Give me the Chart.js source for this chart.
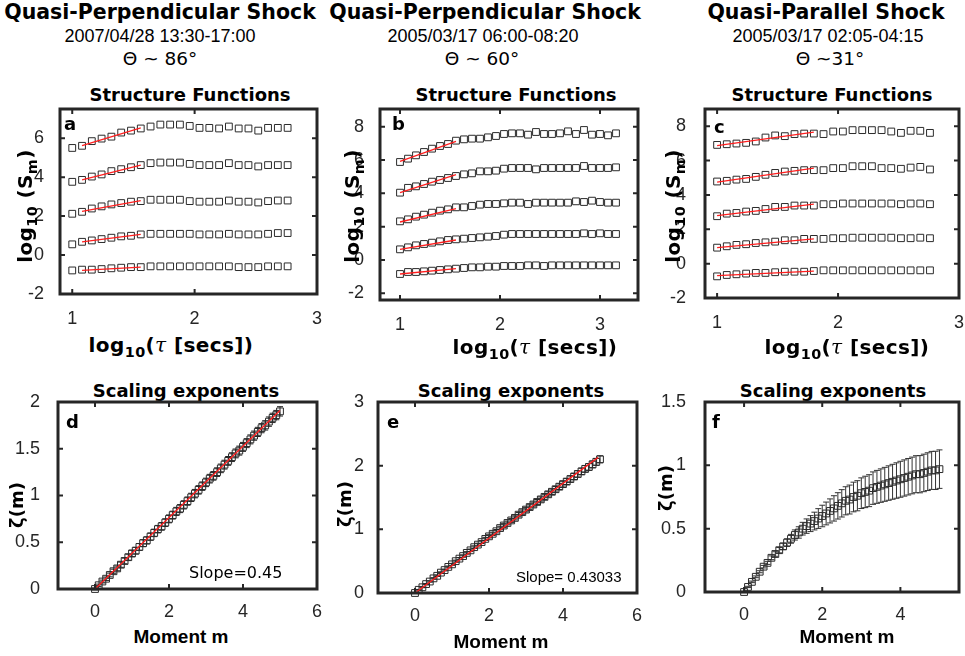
<!DOCTYPE html>
<html>
<head>
<meta charset="utf-8">
<script src="https://cdn.jsdelivr.net/npm/chart.js@4.4.1/dist/chart.umd.min.js"></script>
<style>
  html, body { margin: 0; padding: 0; background: #fff; overflow: hidden; }
  #fig { position: relative; width: 965px; height: 656px; background: #fff; overflow: hidden; }
  #fig canvas { position: absolute; }
  .t { position: absolute; white-space: nowrap; color: #000; transform: translate(-50%, -50%); line-height: 1.15; }
  .hd { font-family: 'DejaVu Sans'; font-weight: bold; font-size: 20.5px; }
  .hs { font-family: 'Liberation Sans'; font-size: 18px; }
  .th { font-family: 'DejaVu Sans'; font-size: 18.5px; }
  .pt { font-family: 'DejaVu Sans'; font-weight: bold; font-size: 18px; }
  .xl { font-family: 'DejaVu Sans'; font-weight: bold; font-size: 20px; letter-spacing: 0.4px; }
  .ml { font-family: 'Liberation Sans'; font-weight: bold; font-size: 19px; }
  .yl { font-family: 'DejaVu Sans'; font-weight: bold; font-size: 18px; transform: translate(-50%, -50%) rotate(-90deg); }
  .ys { font-size: 20px; letter-spacing: 0.4px; }
  .tau { font-family: 'DejaVu Serif'; font-style: italic; font-weight: normal; }
  .lt { position: absolute; font-family: 'DejaVu Sans'; font-weight: bold; font-size: 18px; line-height: 18px; }
  .sl { position: absolute; white-space: nowrap; color: #000; }
  sub { font-size: 72%; vertical-align: -0.35em; line-height: 0; }
</style>
</head>
<body>
<div id="fig">
  <div class="t hd" style="left:160px; top:13px">Quasi-Perpendicular Shock</div>
  <div class="t hs" style="left:160px; top:36px">2007/04/28 13:30-17:00</div>
  <div class="t th" style="left:160px; top:59px">Θ ~ 86°</div>
  <div class="t hd" style="left:485px; top:13px">Quasi-Perpendicular Shock</div>
  <div class="t hs" style="left:483px; top:36px">2005/03/17 06:00-08:20</div>
  <div class="t th" style="left:482px; top:59px">Θ ~ 60°</div>
  <div class="t hd" style="left:826px; top:13px">Quasi-Parallel Shock</div>
  <div class="t hs" style="left:828px; top:36px">2005/03/17 02:05-04:15</div>
  <div class="t th" style="left:830px; top:59px">Θ ~31°</div>

  <div class="t pt" style="left:190px; top:95px">Structure Functions</div>
  <div class="t pt" style="left:516px; top:95px">Structure Functions</div>
  <div class="t pt" style="left:832px; top:95px">Structure Functions</div>
  <div class="t pt" style="left:186px; top:391px">Scaling exponents</div>
  <div class="t pt" style="left:511px; top:391px">Scaling exponents</div>
  <div class="t pt" style="left:833px; top:391px">Scaling exponents</div>
</div>
<script>
// ---- panel a: 2007/04/28, log10(S_m) vs log10(tau), m = 1..5 ----
const tauA = [1.00, 1.08, 1.16, 1.24, 1.32, 1.40, 1.48, 1.56, 1.64, 1.72, 1.80, 1.88, 1.96, 2.04, 2.12, 2.20, 2.28, 2.36, 2.44, 2.52, 2.60, 2.68, 2.76];
const sfA1 = [-0.79, -0.75, -0.75, -0.72, -0.68, -0.65, -0.62, -0.62, -0.58, -0.58, -0.58, -0.58, -0.58, -0.58, -0.58, -0.58, -0.58, -0.62, -0.62, -0.62, -0.58, -0.58, -0.58];
const sfA2 = [0.55, 0.68, 0.75, 0.82, 0.89, 0.96, 0.99, 1.06, 1.09, 1.09, 1.09, 1.09, 1.09, 1.06, 1.06, 1.06, 1.09, 1.06, 1.06, 1.06, 1.09, 1.13, 1.13];
const sfA3 = [2.12, 2.22, 2.39, 2.50, 2.60, 2.67, 2.74, 2.77, 2.84, 2.84, 2.84, 2.84, 2.77, 2.74, 2.74, 2.74, 2.80, 2.74, 2.74, 2.70, 2.77, 2.80, 2.80];
const sfA4 = [3.76, 3.86, 4.03, 4.14, 4.31, 4.41, 4.51, 4.62, 4.72, 4.75, 4.75, 4.75, 4.68, 4.62, 4.62, 4.62, 4.72, 4.62, 4.62, 4.55, 4.62, 4.62, 4.62];
const sfA5 = [5.50, 5.61, 5.85, 5.98, 6.08, 6.29, 6.39, 6.50, 6.60, 6.70, 6.70, 6.70, 6.63, 6.53, 6.53, 6.50, 6.60, 6.50, 6.50, 6.39, 6.53, 6.53, 6.53];
const fitTauA = [1.08, 1.56];
const fitStartA = [-0.79, 0.68, 2.24, 3.86, 5.62];
const fitEndA = [-0.62, 1.06, 2.80, 4.62, 6.53];

// ---- panel b: 2005/03/17 06:00-08:20 ----
const tauB = [1.00, 1.08, 1.16, 1.24, 1.32, 1.40, 1.48, 1.56, 1.64, 1.72, 1.80, 1.88, 1.96, 2.04, 2.12, 2.20, 2.28, 2.36, 2.44, 2.52, 2.60, 2.68, 2.76, 2.84, 2.92, 3.00, 3.08, 3.16];
const sfB1 = [-0.84, -0.72, -0.72, -0.68, -0.64, -0.60, -0.56, -0.52, -0.48, -0.44, -0.44, -0.40, -0.40, -0.36, -0.36, -0.36, -0.32, -0.32, -0.36, -0.32, -0.32, -0.32, -0.32, -0.32, -0.32, -0.32, -0.32, -0.32];
const sfB2 = [0.64, 0.76, 0.88, 0.96, 1.04, 1.12, 1.20, 1.24, 1.28, 1.32, 1.36, 1.40, 1.44, 1.52, 1.56, 1.56, 1.56, 1.56, 1.56, 1.56, 1.56, 1.56, 1.56, 1.60, 1.56, 1.60, 1.56, 1.56];
const sfB3 = [2.32, 2.44, 2.60, 2.72, 2.84, 2.96, 3.04, 3.16, 3.16, 3.24, 3.32, 3.36, 3.36, 3.40, 3.44, 3.44, 3.36, 3.44, 3.44, 3.44, 3.44, 3.44, 3.52, 3.48, 3.56, 3.48, 3.44, 3.44];
const sfB4 = [4.04, 4.33, 4.42, 4.56, 4.70, 4.80, 4.92, 5.04, 5.14, 5.20, 5.32, 5.32, 5.36, 5.48, 5.52, 5.52, 5.52, 5.44, 5.52, 5.52, 5.52, 5.52, 5.52, 5.64, 5.52, 5.52, 5.52, 5.56];
const sfB5 = [5.88, 6.08, 6.28, 6.48, 6.68, 6.84, 6.96, 7.16, 7.24, 7.28, 7.28, 7.36, 7.44, 7.56, 7.60, 7.60, 7.52, 7.68, 7.56, 7.56, 7.60, 7.72, 7.56, 7.80, 7.52, 7.56, 7.48, 7.60];
const fitTauB = [1.00, 1.56];
const fitStartB = [-0.84, 0.64, 2.28, 4.04, 5.92];
const fitEndB = [-0.52, 1.20, 3.08, 5.12, 7.12];

// ---- panel c: 2005/03/17 02:05-04:15 ----
const tauC = [1.00, 1.08, 1.16, 1.24, 1.32, 1.40, 1.48, 1.56, 1.64, 1.72, 1.80, 1.88, 1.96, 2.04, 2.12, 2.20, 2.28, 2.36, 2.44, 2.52, 2.60, 2.68, 2.76];
const sfC1 = [-0.74, -0.66, -0.62, -0.58, -0.54, -0.54, -0.50, -0.47, -0.47, -0.47, -0.43, -0.39, -0.39, -0.39, -0.39, -0.39, -0.39, -0.39, -0.39, -0.39, -0.39, -0.39, -0.39];
const sfC2 = [0.93, 1.01, 1.09, 1.13, 1.20, 1.24, 1.28, 1.36, 1.36, 1.44, 1.44, 1.44, 1.48, 1.48, 1.51, 1.51, 1.51, 1.51, 1.51, 1.48, 1.48, 1.51, 1.48];
const sfC3 = [2.76, 2.91, 2.95, 3.03, 3.07, 3.18, 3.30, 3.30, 3.38, 3.38, 3.38, 3.46, 3.46, 3.50, 3.50, 3.50, 3.50, 3.50, 3.50, 3.46, 3.50, 3.50, 3.46];
const sfC4 = [4.78, 4.82, 4.89, 4.93, 5.05, 5.17, 5.28, 5.36, 5.40, 5.44, 5.44, 5.44, 5.56, 5.56, 5.67, 5.67, 5.67, 5.56, 5.56, 5.52, 5.59, 5.63, 5.48];
const sfC5 = [6.91, 6.95, 6.99, 7.03, 7.11, 7.34, 7.46, 7.42, 7.54, 7.57, 7.57, 7.54, 7.69, 7.69, 7.77, 7.77, 7.77, 7.77, 7.69, 7.61, 7.73, 7.73, 7.61];
const fitTauC = [1.00, 1.80];
const fitStartC = [-0.70, 0.93, 2.80, 4.74, 6.87];
const fitEndC = [-0.43, 1.44, 3.46, 5.56, 7.65];

// ---- scaling exponents zeta(m), panels d e f ----
const momentM = [0.0, 0.1, 0.2, 0.3, 0.4, 0.5, 0.6, 0.7, 0.8, 0.9, 1.0, 1.1, 1.2, 1.3, 1.4, 1.5, 1.6, 1.7, 1.8, 1.9,
                 2.0, 2.1, 2.2, 2.3, 2.4, 2.5, 2.6, 2.7, 2.8, 2.9, 3.0, 3.1, 3.2, 3.3, 3.4, 3.5, 3.6, 3.7, 3.8, 3.9,
                 4.0, 4.1, 4.2, 4.3, 4.4, 4.5, 4.6, 4.7, 4.8, 4.9, 5.0];
const zetaD = [0.00, 0.04, 0.08, 0.11, 0.15, 0.19, 0.22, 0.26, 0.30, 0.34, 0.38, 0.41, 0.45, 0.49, 0.52, 0.56, 0.60, 0.64, 0.67, 0.71,
               0.75, 0.79, 0.83, 0.86, 0.90, 0.94, 0.98, 1.02, 1.06, 1.10, 1.14, 1.18, 1.21, 1.25, 1.29, 1.33, 1.37, 1.41, 1.45, 1.48,
               1.52, 1.56, 1.60, 1.64, 1.68, 1.72, 1.75, 1.79, 1.83, 1.86, 1.90];
const errD = [0.01, 0.012, 0.015, 0.018, 0.02, 0.022, 0.025, 0.028, 0.03, 0.032, 0.034, 0.035, 0.036, 0.037, 0.038, 0.039, 0.04, 0.04, 0.041, 0.041,
              0.042, 0.042, 0.043, 0.043, 0.044, 0.044, 0.044, 0.045, 0.045, 0.045, 0.045, 0.046, 0.046, 0.046, 0.046, 0.047, 0.047, 0.047, 0.047, 0.048,
              0.048, 0.048, 0.048, 0.049, 0.049, 0.049, 0.05, 0.05, 0.05, 0.05, 0.05];
const fitMD = [0, 5];
const fitZD = [0, 1.91];

const zetaE = [0.00, 0.05, 0.09, 0.14, 0.18, 0.23, 0.27, 0.32, 0.36, 0.41, 0.45, 0.50, 0.54, 0.58, 0.63, 0.67, 0.72, 0.76, 0.80, 0.85,
               0.89, 0.93, 0.97, 1.02, 1.06, 1.10, 1.14, 1.18, 1.23, 1.27, 1.31, 1.35, 1.39, 1.43, 1.47, 1.51, 1.55, 1.59, 1.63, 1.67,
               1.71, 1.75, 1.79, 1.83, 1.87, 1.91, 1.95, 1.98, 2.02, 2.06, 2.10];
const errE = [0.005, 0.006, 0.007, 0.008, 0.009, 0.01, 0.011, 0.012, 0.013, 0.014, 0.015, 0.016, 0.017, 0.018, 0.019, 0.02, 0.021, 0.022, 0.023, 0.024,
              0.025, 0.026, 0.027, 0.028, 0.029, 0.03, 0.031, 0.032, 0.033, 0.034, 0.035, 0.036, 0.037, 0.038, 0.039, 0.04, 0.041, 0.042, 0.043, 0.044,
              0.045, 0.046, 0.047, 0.048, 0.049, 0.05, 0.051, 0.052, 0.053, 0.054, 0.055];
const fitME = [0, 4.95];
const fitZE = [0, 2.13];

const zetaF = [0.00, 0.04, 0.08, 0.12, 0.16, 0.20, 0.23, 0.27, 0.30, 0.33, 0.36, 0.39, 0.42, 0.45, 0.47, 0.50, 0.52, 0.54, 0.56, 0.58,
               0.60, 0.62, 0.64, 0.66, 0.68, 0.70, 0.72, 0.73, 0.75, 0.76, 0.78, 0.79, 0.80, 0.82, 0.83, 0.84, 0.85, 0.86, 0.87, 0.88,
               0.89, 0.90, 0.91, 0.92, 0.93, 0.93, 0.94, 0.95, 0.96, 0.96, 0.97];
const errF = [0.005, 0.005, 0.006, 0.007, 0.008, 0.01, 0.012, 0.015, 0.018, 0.021, 0.025, 0.03, 0.035, 0.04, 0.045, 0.05, 0.057, 0.063, 0.07, 0.078,
              0.085, 0.09, 0.095, 0.10, 0.104, 0.108, 0.111, 0.114, 0.117, 0.119, 0.121, 0.124, 0.126, 0.128, 0.13, 0.132, 0.134, 0.136, 0.138, 0.14,
              0.142, 0.143, 0.144, 0.145, 0.146, 0.147, 0.148, 0.149, 0.15, 0.151, 0.152];

// tick values
const xTicksTau = [1, 2, 3];
const yTicksA = [-2, 0, 2, 4, 6];
const yTicksBC = [-2, 0, 2, 4, 6, 8];
const xTicksM = [0, 2, 4, 6];
const xTicksF = [0, 2, 4];
const yTicksD = [0, 0.5, 1, 1.5, 2];
const yTicksE = [0, 1, 2, 3];
const yTicksF = [0, 0.5, 1, 1.5];

// 画布边距（轴标签留白）
const M = { left: 60, right: 24, top: 26, bottom: 36 };
const INK = '#262626';
const MARK = '#2b2b2b';
const RED = '#ff1f1f';
const tickFont = { family: 'Liberation Sans', size: 18 };

// 外框 + 向内的刻度线
const framePlugin = {
    id: 'frame',
    afterDraw(chart) {
        const { ctx, chartArea: a, scales: { x, y } } = chart;
        ctx.save();
        ctx.strokeStyle = INK;
        ctx.lineWidth = 2;
        ctx.beginPath();
        x.ticks.forEach(t => {
            const px = x.getPixelForValue(t.value);
            ctx.moveTo(px, a.bottom); ctx.lineTo(px, a.bottom - 5);
            ctx.moveTo(px, a.top); ctx.lineTo(px, a.top + 5);
        });
        y.ticks.forEach(t => {
            const py = y.getPixelForValue(t.value);
            ctx.moveTo(a.left, py); ctx.lineTo(a.left + 5, py);
            ctx.moveTo(a.right, py); ctx.lineTo(a.right - 5, py);
        });
        ctx.stroke();
        ctx.lineWidth = 3;
        ctx.strokeRect(a.left, a.top, a.right - a.left, a.bottom - a.top);
        ctx.restore();
    }
};

// 误差棒
const errorBarPlugin = {
    id: 'errorBars',
    beforeDatasetsDraw(chart) {
        const { ctx, scales: { x, y } } = chart;
        chart.data.datasets.forEach(ds => {
            if (!ds.errorBars) return;
            const cap = ds.capWidth || 3;
            ctx.save();
            ctx.strokeStyle = ds.errorColor || '#333';
            ctx.lineWidth = 1;
            ctx.beginPath();
            ds.data.forEach((p, i) => {
                const e = ds.errorBars[i];
                const px = x.getPixelForValue(p.x);
                const top = y.getPixelForValue(p.y + e);
                const bot = y.getPixelForValue(p.y - e);
                ctx.moveTo(px, top); ctx.lineTo(px, bot);
                ctx.moveTo(px - cap, top); ctx.lineTo(px + cap, top);
                ctx.moveTo(px - cap, bot); ctx.lineTo(px + cap, bot);
            });
            ctx.stroke();
            ctx.restore();
        });
    }
};

function markerSet(xs, ys, extra) {
    return Object.assign({
        data: xs.map((v, i) => ({ x: v, y: ys[i] })),
        showLine: false,
        pointStyle: 'rect',
        pointRadius: 4.8,
        pointBorderWidth: 1,
        pointBorderColor: MARK,
        pointBackgroundColor: 'rgba(0,0,0,0)',
        clip: false
    }, extra || {});
}

function lineSet(xs, ys) {
    return {
        data: xs.map((v, i) => ({ x: v, y: ys[i] })),
        showLine: true,
        borderColor: RED,
        borderWidth: 1.3,
        pointRadius: 0
    };
}

function makePanel(box, cfg) {
    const W = box.r - box.l + M.left + M.right;
    const H = box.b - box.t + M.top + M.bottom;
    const cv = document.createElement('canvas');
    cv.width = W;
    cv.height = H;
    cv.style.left = (box.l - M.left) + 'px';
    cv.style.top = (box.t - M.top) + 'px';
    document.getElementById('fig').appendChild(cv);

    const axis = (min, max, ticks, fitFn, pad) => ({
        type: 'linear',
        min: min,
        max: max,
        grid: { display: false },
        border: { display: false },
        afterBuildTicks: s => { s.ticks = ticks.map(v => ({ value: v })); },
        afterFit: fitFn,
        ticks: { font: tickFont, color: INK, padding: pad, maxRotation: 0, autoSkip: false, callback: v => String(v) }
    });

    return new Chart(cv.getContext('2d'), {
        type: 'scatter',
        data: { datasets: cfg.datasets },
        options: {
            responsive: false,
            animation: false,
            events: [],
            layout: { padding: { top: M.top, right: M.right, left: 0, bottom: 0 } },
            plugins: { legend: { display: false }, tooltip: { enabled: false } },
            scales: {
                x: axis(cfg.xMin, cfg.xMax, cfg.xTicks, s => { s.height = M.bottom; }, cfg.xPad),
                y: axis(cfg.yMin, cfg.yMax, cfg.yTicks, s => { s.width = M.left; }, cfg.yPad)
            }
        },
        plugins: [errorBarPlugin, framePlugin]
    });
}

function structurePanel(box, tau, rows, fitTau, fitStart, fitEnd, yMin, yMax, yTicks, xMin, xMax, yPad) {
    const fits = rows.map((_, k) => lineSet(fitTau, [fitStart[k], fitEnd[k]]));
    const marks = rows.map(r => markerSet(tau, r));
    makePanel(box, {
        datasets: fits.concat(marks),
        xMin: xMin, xMax: xMax, xTicks: xTicksTau, xPad: 6,
        yMin: yMin, yMax: yMax, yTicks: yTicks, yPad: yPad
    });
}

structurePanel({ l: 60, t: 109, r: 317, b: 294 }, tauA, [sfA1, sfA2, sfA3, sfA4, sfA5], fitTauA, fitStartA, fitEndA, -2, 7.5, yTicksA, 0.9, 3.0, 8);
structurePanel({ l: 380, t: 109, r: 638, b: 300 }, tauB, [sfB1, sfB2, sfB3, sfB4, sfB5], fitTauB, fitStartB, fitEndB, -2.4, 9.06, yTicksBC, 0.8, 3.38, 8);
structurePanel({ l: 705, t: 109, r: 959, b: 298 }, tauC, [sfC1, sfC2, sfC3, sfC4, sfC5], fitTauC, fitStartC, fitEndC, -2, 9, yTicksBC, 0.9, 3.0, 11);

makePanel({ l: 58, t: 402, r: 317, b: 589 }, {
    datasets: [lineSet(fitMD, fitZD), markerSet(momentM, zetaD, { errorBars: errD, errorColor: '#222', capWidth: 3 })],
    xMin: -1, xMax: 6, xTicks: xTicksM, xPad: 4,
    yMin: 0, yMax: 2, yTicks: yTicksD, yPad: 10
});
makePanel({ l: 378, t: 402, r: 637, b: 593 }, {
    datasets: [lineSet(fitME, fitZE), markerSet(momentM, zetaE, { errorBars: errE, errorColor: '#222', capWidth: 3 })],
    xMin: -1, xMax: 6, xTicks: xTicksM, xPad: 4,
    yMin: 0, yMax: 3, yTicks: yTicksE, yPad: 6
});
makePanel({ l: 705, t: 402, r: 959, b: 592 }, {
    datasets: [markerSet(momentM, zetaF, { errorBars: errF, errorColor: '#333', capWidth: 3 })],
    xMin: -1, xMax: 5.5, xTicks: xTicksF, xPad: 4,
    yMin: 0, yMax: 1.5, yTicks: yTicksF, yPad: 11
});

// 轴标题、面板字母、斜率注释（HTML 文本放在画布之上）
const fig = document.getElementById('fig');
function addHTML(html) { fig.insertAdjacentHTML('beforeend', html); }

const tauLabel = 'log<sub>10</sub>(<span class="tau">τ</span> [secs])';
addHTML(`<div class="t xl" style="left:171px; top:345px">${tauLabel}</div>`);
addHTML(`<div class="t xl" style="left:535px; top:347px">${tauLabel}</div>`);
addHTML(`<div class="t xl" style="left:847px; top:347px">${tauLabel}</div>`);

const smLabel = 'log<sub>10</sub> (S<sub>m</sub>)';
addHTML(`<div class="t yl ys" style="left:25px; top:206px">${smLabel}</div>`);
addHTML(`<div class="t yl ys" style="left:352px; top:206px">${smLabel}</div>`);
addHTML(`<div class="t yl ys" style="left:673px; top:206px">${smLabel}</div>`);

addHTML('<div class="t ml" style="left:181px; top:637px">Moment m</div>');
addHTML('<div class="t ml" style="left:501px; top:642px">Moment m</div>');
addHTML('<div class="t ml" style="left:847px; top:637px">Moment m</div>');

addHTML('<div class="t yl" style="left:17px; top:505px">ζ(m)</div>');
addHTML('<div class="t yl" style="left:345px; top:504px">ζ(m)</div>');
addHTML('<div class="t yl" style="left:666px; top:488px">ζ(m)</div>');

const letters = [['a', 64, 130], ['b', 392, 130], ['c', 714, 133], ['d', 66, 428], ['e', 387, 428], ['f', 712, 428]];
letters.forEach(([s, x, base]) => addHTML(`<div class="lt" style="left:${x}px; top:${base - 15}px">${s}</div>`));

addHTML('<div class="sl" style="left:189px; top:563px; font-family:\'DejaVu Sans\'; font-size:16px">Slope=0.45</div>');
addHTML('<div class="sl" style="left:516px; top:568px; font-family:\'Liberation Sans\'; font-size:15px">Slope= 0.43033</div>');
</script>
</body>
</html>
